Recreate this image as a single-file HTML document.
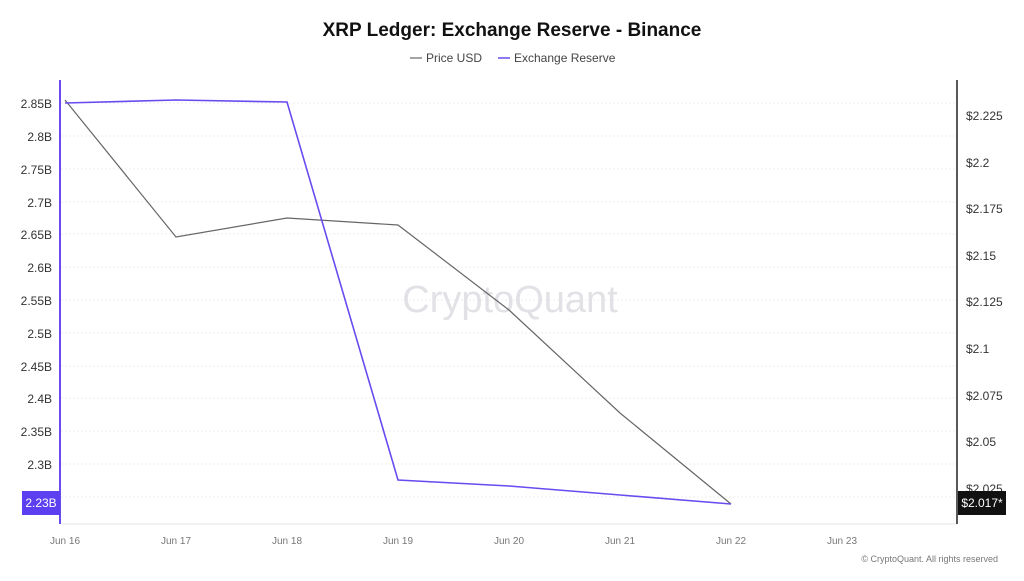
<!DOCTYPE html>
<html><head><meta charset="utf-8"><style>
body{margin:0;background:#fff;width:1024px;height:576px;overflow:hidden;font-family:"Liberation Sans",sans-serif}
</style></head><body>
<svg width="1024" height="576" xmlns="http://www.w3.org/2000/svg" font-family="Liberation Sans, sans-serif">
<text x="512" y="36" text-anchor="middle" font-size="19" font-weight="bold" fill="#111">XRP Ledger: Exchange Reserve - Binance</text>
<line x1="410" y1="58" x2="422" y2="58" stroke="#666" stroke-width="1.2"/>
<text x="426" y="62" font-size="12" fill="#444">Price USD</text>
<line x1="498" y1="58" x2="510" y2="58" stroke="#6a4bf0" stroke-width="1.5"/>
<text x="514" y="62" font-size="12" fill="#444">Exchange Reserve</text>
<g stroke="#eee" stroke-dasharray="2,2">
<line x1="61" y1="103" x2="957" y2="103"/><line x1="61" y1="136" x2="957" y2="136"/><line x1="61" y1="169" x2="957" y2="169"/><line x1="61" y1="202" x2="957" y2="202"/><line x1="61" y1="234" x2="957" y2="234"/><line x1="61" y1="267" x2="957" y2="267"/><line x1="61" y1="300" x2="957" y2="300"/><line x1="61" y1="333" x2="957" y2="333"/><line x1="61" y1="366" x2="957" y2="366"/><line x1="61" y1="398" x2="957" y2="398"/><line x1="61" y1="431" x2="957" y2="431"/><line x1="61" y1="464" x2="957" y2="464"/><line x1="61" y1="497" x2="957" y2="497"/>
</g>
<line x1="61" y1="524" x2="957" y2="524" stroke="#e6e6e6"/>
<g font-size="12" fill="#333" text-anchor="end">
<text x="52" y="108">2.85B</text><text x="52" y="141">2.8B</text><text x="52" y="174">2.75B</text><text x="52" y="207">2.7B</text><text x="52" y="239">2.65B</text><text x="52" y="272">2.6B</text><text x="52" y="305">2.55B</text><text x="52" y="338">2.5B</text><text x="52" y="371">2.45B</text><text x="52" y="403">2.4B</text><text x="52" y="436">2.35B</text><text x="52" y="469">2.3B</text>
</g>
<g font-size="12" fill="#333">
<text x="966" y="120">$2.225</text><text x="966" y="167">$2.2</text><text x="966" y="213">$2.175</text><text x="966" y="260">$2.15</text><text x="966" y="306">$2.125</text><text x="966" y="353">$2.1</text><text x="966" y="400">$2.075</text><text x="966" y="446">$2.05</text><text x="966" y="493">$2.025</text>
</g>
<g font-size="10" fill="#777" text-anchor="middle">
<text x="65" y="544">Jun 16</text><text x="176" y="544">Jun 17</text><text x="287" y="544">Jun 18</text><text x="398" y="544">Jun 19</text><text x="509" y="544">Jun 20</text><text x="620" y="544">Jun 21</text><text x="731" y="544">Jun 22</text><text x="842" y="544">Jun 23</text>
</g>
<text x="510" y="312" text-anchor="middle" font-size="38" fill="#e2e2e6">CryptoQuant</text>
<line x1="60" y1="80" x2="60" y2="524" stroke="#6a4bf0" stroke-width="2"/>
<line x1="957" y1="80" x2="957" y2="524" stroke="#222" stroke-width="1.5"/>
<polyline fill="none" stroke="#666" stroke-width="1.2" points="65,100 176,237 287,218 398,225 509,310 620,413 731,504"/>
<polyline fill="none" stroke="#6a4bf0" stroke-width="1.6" points="65,103 176,100 287,102 398,480 509,486 620,495 731,504"/>
<rect x="22" y="491" width="38" height="24" fill="#5b3ff0"/>
<text x="41" y="507" text-anchor="middle" font-size="12" fill="#fff">2.23B</text>
<rect x="958" y="491" width="48" height="24" fill="#111"/>
<text x="982" y="507" text-anchor="middle" font-size="12" fill="#fff">$2.017*</text>
<text x="998" y="562" text-anchor="end" font-size="9" fill="#777">© CryptoQuant. All rights reserved</text>
</svg>
</body></html>
